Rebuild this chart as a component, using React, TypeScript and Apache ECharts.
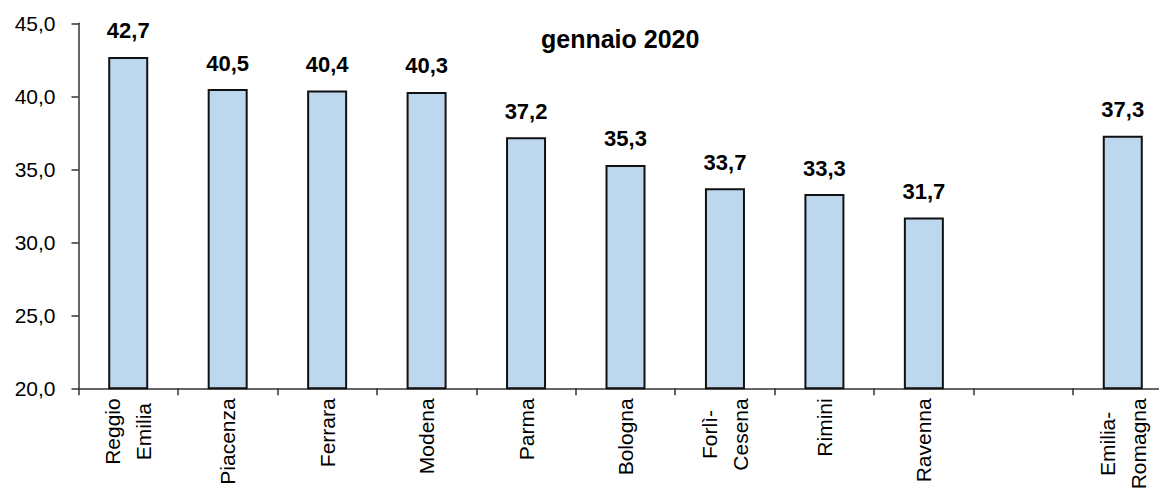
import React, { useEffect, useRef } from "react";
import * as echarts from "echarts";

const categories: string[] = [
  "Reggio\nEmilia",
  "Piacenza",
  "Ferrara",
  "Modena",
  "Parma",
  "Bologna",
  "Forlì-\nCesena",
  "Rimini",
  "Ravenna",
  "",
  "Emilia-\nRomagna",
];
const values: (number | null)[] = [42.7, 40.5, 40.4, 40.3, 37.2, 35.3, 33.7, 33.3, 31.7, null, 37.3];
const yMin = 20;
const yMax = 45;
const yStep = 5;
const chartTitle = "gennaio 2020";

const fmt = (v: number) => v.toFixed(1).replace(".", ",");

export default function App() {
  const ref = useRef<HTMLDivElement>(null);
  useEffect(() => {
    if (!ref.current) return;
    const chart = echarts.init(ref.current, null, { renderer: "svg" });
    const axisColor = "#333333";
    const font = "'Liberation Sans', Arial, sans-serif";
    chart.setOption({
      animation: false,
      backgroundColor: "#ffffff",
      title: {
        text: chartTitle,
        left: 541,
        top: 26,
        padding: 0,
        textStyle: { fontFamily: font, fontSize: 25, fontWeight: "bold", color: "#000" },
      },
      grid: {
        left: 78.5,
        top: 23.3,
        width: 1094,
        height: 365,
        containLabel: false,
        outerBoundsMode: "none",
      },
      xAxis: {
        type: "category",
        data: categories,
        axisLine: { show: true, lineStyle: { color: axisColor, width: 1.5 } },
        axisTick: { show: true, length: 7, interval: 0, lineStyle: { color: axisColor, width: 1.5 } },
        axisLabel: {
          interval: 0,
          rotate: 90,
          margin: 10,
          color: "#000",
          hideOverlap: false,
          formatter: (v: string) =>
            v === "" ? "" : v.split("\n").map((l) => `{c|${l}}`).join("\n"),
          rich: {
            c: { fontFamily: font, fontSize: 21, color: "#000", align: "center", lineHeight: 31 },
          },
        },
        splitLine: { show: false },
      },
      yAxis: {
        type: "value",
        min: yMin,
        max: yMax,
        interval: yStep,
        axisLine: { show: true, lineStyle: { color: axisColor, width: 1.5 } },
        axisTick: { show: true, length: 7, lineStyle: { color: axisColor, width: 1.5 } },
        axisLabel: {
          margin: 23,
          color: "#000",
          fontFamily: font,
          fontSize: 21,
          formatter: (v: number) => fmt(v),
        },
        splitLine: { show: false },
      },
      series: [
        {
          type: "bar",
          data: values,
          barWidth: 40,
          itemStyle: { color: "#BDD7EE", borderColor: "#111111", borderWidth: 2 },
          label: {
            show: true,
            position: "top",
            distance: 15,
            color: "#000",
            fontFamily: font,
            fontSize: 22,
            fontWeight: "bold",
            formatter: (p: any) => (p.value == null ? "" : fmt(p.value)),
          },
        },
      ],
    });
    return () => chart.dispose();
  }, []);
  return (
    <div
      ref={ref}
      style={{ position: "absolute", left: 0, top: 0, width: 1159, height: 489 }}
    />
  );
}
